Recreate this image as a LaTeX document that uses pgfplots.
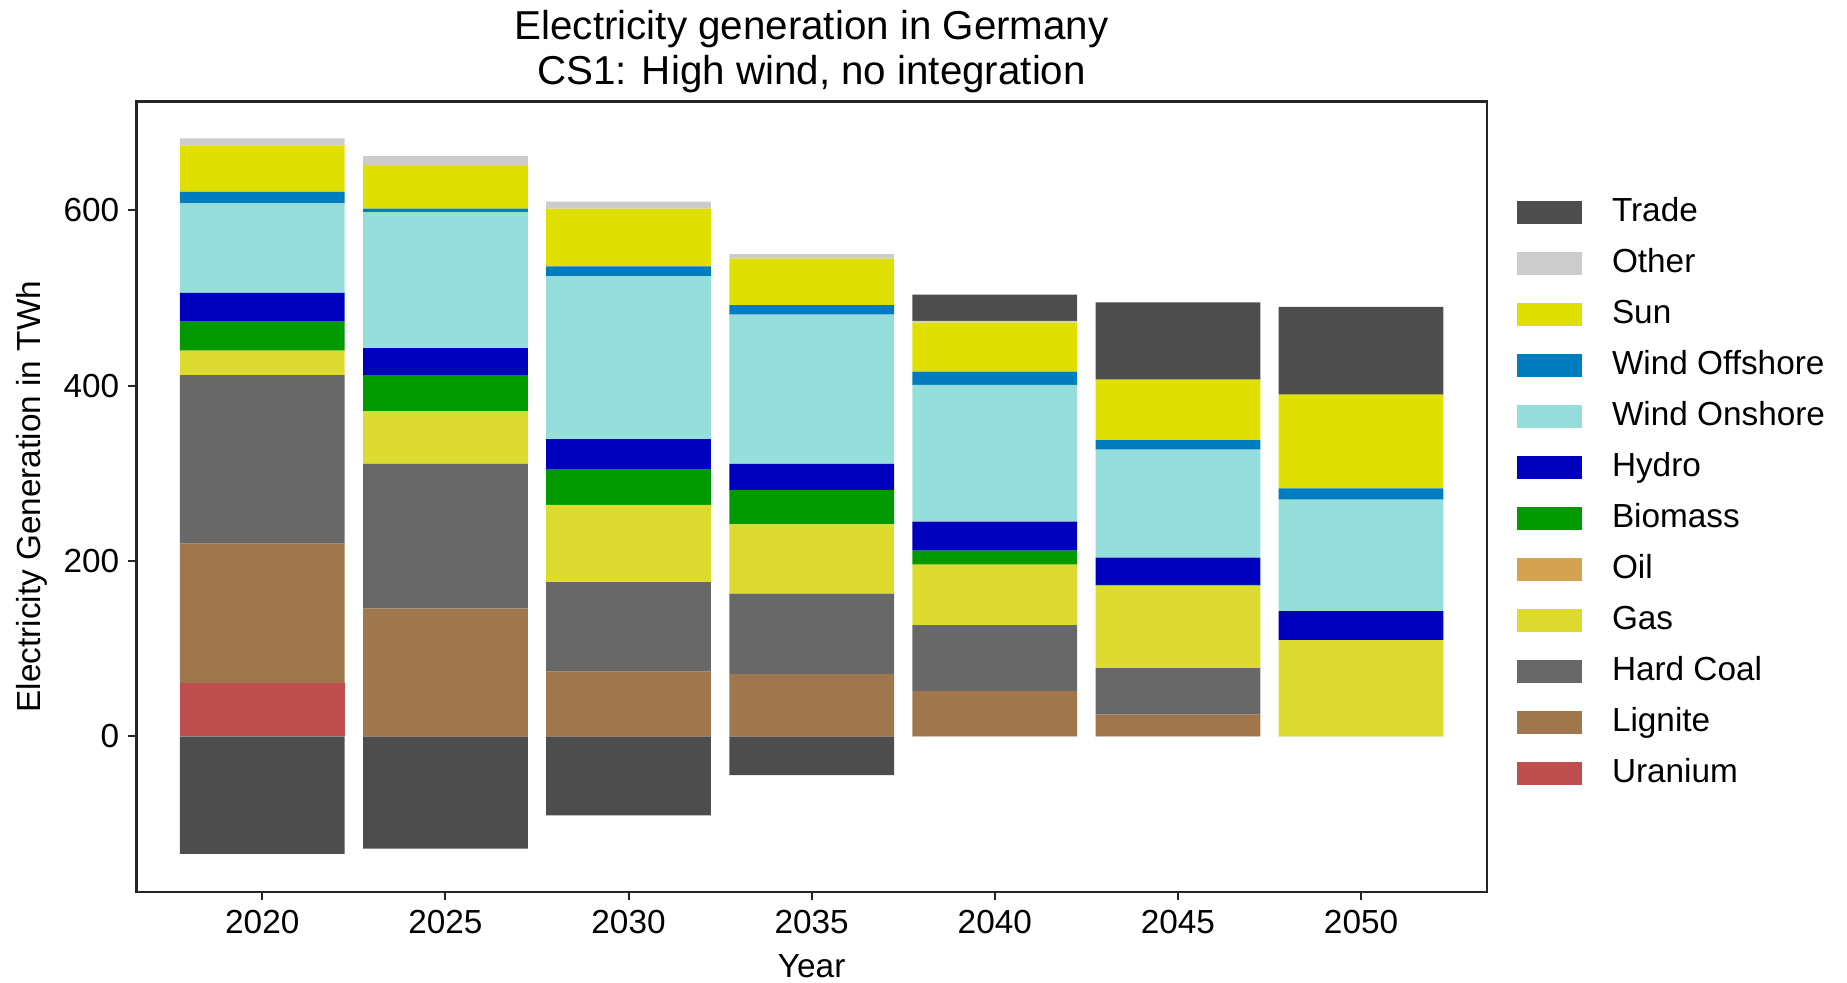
\documentclass[border=0pt]{standalone}
\usepackage{pgfplots}
\pgfplotsset{compat=1.18}
\usepackage{pgfplotstable}
\usepackage{fontspec}
\setmainfont{Liberation Sans}

\definecolor{trade}{HTML}{4D4D4D}
\definecolor{other}{HTML}{CCCCCC}
\definecolor{sun}{HTML}{E0E000}
\definecolor{offshore}{HTML}{007DBF}
\definecolor{onshore}{HTML}{96DEDC}
\definecolor{hydro}{HTML}{0000BF}
\definecolor{biomass}{HTML}{009900}
\definecolor{oil}{HTML}{D4A352}
\definecolor{gas}{HTML}{DDDB2F}
\definecolor{hardcoal}{HTML}{686868}
\definecolor{lignite}{HTML}{A0764D}
\definecolor{uranium}{HTML}{BF4F4F}

% generation per source in TWh, trade split into export (negative) and import
\pgfplotstableread{
year uranium lignite hardcoal gas oil biomass hydro onshore offshore sun other trade tradeneg
2020 61 159 192 28 0 33 33 102 13 53 8 0 -134
2025 0 146 165 60 0 41 31 155 4 50 10 0 -128
2030 0 74 102 88 0 41 34 186 11 66 8 0 -90
2035 0 71 92 79 0 39 30 170 11 53 5 0 -44
2040 0 52 75 69 0 16 33 156 15 56 2 30 0
2045 0 25 53 94 0 1 31 123 11 69 0 88 0
2050 0 0 0 110 0 0 33 127 13 107 0 100 0
}\datatable

\pgfplotsset{
  common/.style={
    scale only axis,
    width=405pt, height=237pt,
    xmin=2016.57, xmax=2053.43,
    ymin=-177, ymax=724,
    bar width=4.5,
  },
}

\begin{document}
\begin{tikzpicture}
% exports below zero, drawn in a second axis so they do not shift the stack
\begin{axis}[common, hide axis, ybar, bar shift=0pt]
\addplot[fill=trade, draw=none] table[x=year, y=tradeneg] {\datatable};
\end{axis}

\begin{axis}[
  common,
  ybar stacked,
  axis line style={black!85, line width=0.7pt},
  tick align=outside,
  tick style={black!85, line width=0.6pt},
  major tick length=2.5pt,
  xtick={2020,2025,2030,2035,2040,2045,2050},
  ytick={0,200,400,600},
  xtick pos=bottom, ytick pos=left,
  tick label style={font=\fontsize{10}{12}\selectfont},
  xticklabel style={/pgf/number format/1000 sep={}, yshift=0.6pt},
  yticklabel style={xshift=0.8pt},
  /pgf/number format/assume math mode=true,
  xlabel={Year},
  ylabel={Electricity Generation in TWh},
  label style={font=\fontsize{10}{12}\selectfont},
  xlabel style={inner sep=0.5pt, yshift=-2.3pt},
  ylabel style={yshift=-2pt},
  title={Electricity generation in Germany\\CS1: High wind, no integration},
  title style={align=center, font=\fontsize{12.1}{13.4}\selectfont, inner sep=1pt, yshift=-4.5pt},
  reverse legend,
  legend cell align=left,
  legend style={draw=none, fill=none, at={(1.0,0.5)}, anchor=west, xshift=6pt, yshift=1pt,
    font=\fontsize{10}{12}\selectfont,
    nodes={text height=7.5pt, text depth=2pt, inner sep=2.9pt},
    /tikz/every odd column/.append style={column sep=6pt}},
  legend image code/.code={\fill[#1] (0pt,-3.5pt) rectangle (19.5pt,3.5pt);},
]
\addplot[fill=uranium, draw=none] table[x=year, y=uranium] {\datatable};
\addplot[fill=lignite, draw=none] table[x=year, y=lignite] {\datatable};
\addplot[fill=hardcoal, draw=none] table[x=year, y=hardcoal] {\datatable};
\addplot[fill=gas, draw=none] table[x=year, y=gas] {\datatable};
\addplot[fill=oil, draw=none] table[x=year, y=oil] {\datatable};
\addplot[fill=biomass, draw=none] table[x=year, y=biomass] {\datatable};
\addplot[fill=hydro, draw=none] table[x=year, y=hydro] {\datatable};
\addplot[fill=onshore, draw=none] table[x=year, y=onshore] {\datatable};
\addplot[fill=offshore, draw=none] table[x=year, y=offshore] {\datatable};
\addplot[fill=sun, draw=none] table[x=year, y=sun] {\datatable};
\addplot[fill=other, draw=none] table[x=year, y=other] {\datatable};
\addplot[fill=trade, draw=none] table[x=year, y=trade] {\datatable};
\legend{Uranium, Lignite, Hard Coal, Gas, Oil, Biomass, Hydro, Wind Onshore, Wind Offshore, Sun, Other, Trade}
\end{axis}
% page extent as in the reference
\path (current axis.south west) +(-41pt,-27.1pt) rectangle +(513.1pt,267.5pt);
\end{tikzpicture}
\end{document}
